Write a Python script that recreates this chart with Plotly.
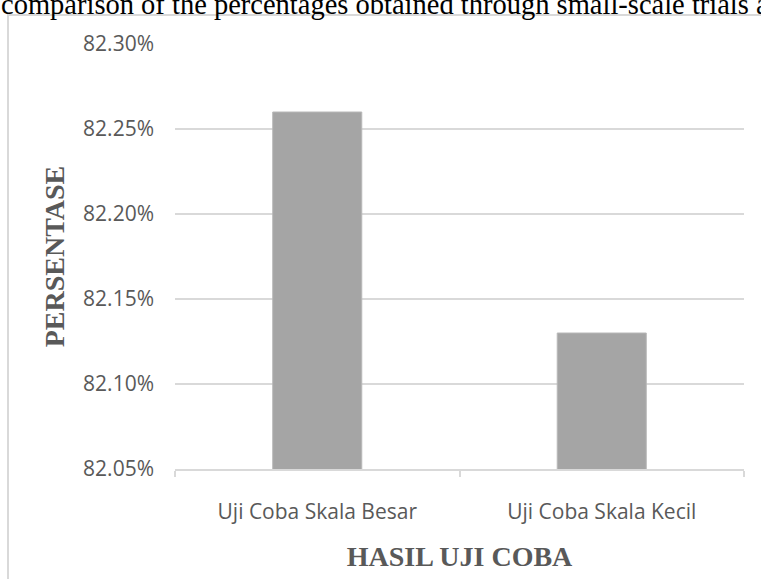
import plotly.graph_objects as go

categories = ["Uji Coba Skala Besar", "Uji Coba Skala Kecil"]
values = [82.26, 82.13]
y_ticks = [82.05, 82.10, 82.15, 82.20, 82.25, 82.30]

W, H = 761, 579
L, R, T, B = 175, 17, 44, 110
pw, ph = W - L - R, H - T - B

def px_x(x):
    return (x - L) / pw

def px_y(y):
    return (H - B - y) / ph

fig = go.Figure()
fig.add_trace(go.Bar(
    x=categories, y=values,
    marker=dict(color="#a5a5a5", line=dict(color="#b8b8b8", width=1)),
    width=0.313,
))

fig.update_layout(
    width=W, height=H,
    margin=dict(l=L, r=R, t=T, b=B),
    paper_bgcolor="white", plot_bgcolor="white",
    showlegend=False,
    xaxis=dict(
        showline=True, linecolor="#d9d9d9", linewidth=1.5,
        ticks="outside", tickson="boundaries", ticklen=6, tickcolor="#d9d9d9", tickwidth=1.5,
        tickfont=dict(family="Open Sans", size=21, color="#595959"),
        ticklabelstandoff=23,
        showgrid=False,
        title=dict(text="<b>HASIL UJI COBA</b>", font=dict(family="Liberation Serif", size=28, color="#595959"), standoff=22),
    ),
    yaxis=dict(
        range=[82.05, 82.30], tickvals=y_ticks,
        ticktext=[f"{v:.2f}%" for v in y_ticks],
        tickfont=dict(family="Open Sans", size=21, color="#595959"),
        showgrid=True, gridcolor="#d9d9d9", gridwidth=1.5,
        zeroline=False, showline=False,
        ticklabelstandoff=20,
        title=dict(text="<b>PERSENTASE</b>", font=dict(family="Liberation Serif", size=28, color="#595959"), standoff=10),
    ),
    shapes=[dict(type="rect", xref="paper", yref="paper",
                 x0=px_x(8), x1=px_x(775), y0=px_y(600), y1=px_y(15),
                 line=dict(color="#d9d9d9", width=2), fillcolor="rgba(0,0,0,0)", layer="below")],
    annotations=[dict(text="comparison of the percentages obtained through small-scale trials and large-scale trials",
                      xref="paper", yref="paper", x=px_x(-1), y=px_y(22),
                      xanchor="left", yanchor="bottom", showarrow=False,
                      font=dict(family="Liberation Serif", size=28.5, color="black"))],
)

fig.write_html("out.html")
